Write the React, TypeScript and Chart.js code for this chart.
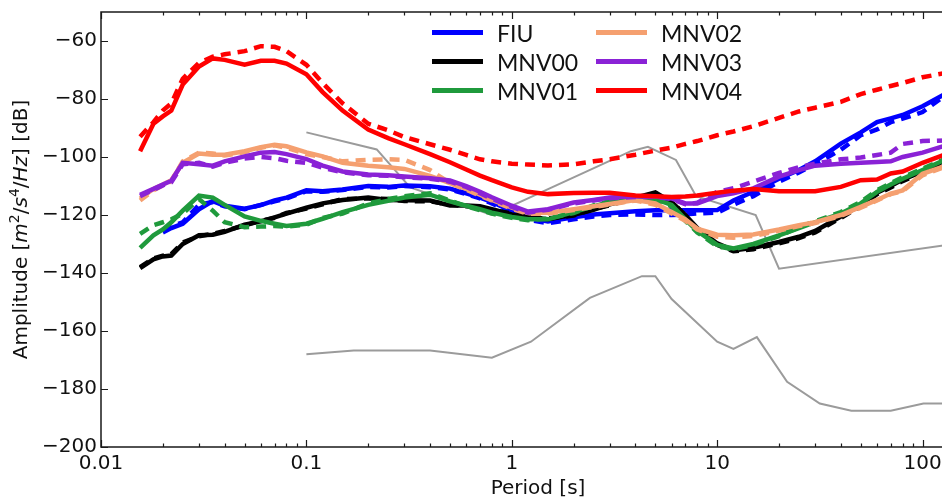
import React, { useEffect, useRef } from "react";
import { Chart, registerables } from "chart.js";

Chart.register(...registerables);

// Period grid [s]
const periods = [0.0155, 0.018, 0.02, 0.022, 0.025, 0.03, 0.035, 0.04, 0.05, 0.06, 0.07, 0.08, 0.1, 0.12, 0.15, 0.2, 0.25, 0.3, 0.4, 0.5, 0.6, 0.7, 0.8, 1, 1.2, 1.5, 2, 2.5, 3, 4, 5, 6, 7, 8, 10, 12, 15, 20, 25, 30, 40, 50, 60, 70, 80, 100, 130];

// Amplitude [dB] per station: solid and dashed curves
const fiuSolid = [null, null, -126, -124.5, -123, -118, -115.2, -116.8, -117.8, -116.6, -115, -114, -111.5, -111.8, -111.2, -110, -110.3, -109.8, -110.1, -110.9, -112.5, -114, -115.5, -118.7, -121, -122.2, -120.8, -119.8, -119.4, -118.7, -118.4, -118.4, -118.4, -118.4, -118.3, -115, -112, -107.5, -104.5, -101.5, -95.4, -91.5, -88, -86.7, -85.5, -82.5, -78.1];
const fiuDashed = [null, null, -125.5, -124, -122.5, -116.5, -115.5, -117, -118, -116.5, -115.3, -114.3, -111.8, -112, -111.4, -110.3, -110.5, -110, -110.4, -111.2, -112.8, -114.3, -116, -119.2, -121.7, -122.8, -121.5, -120.5, -120, -119.8, -120, -120, -119.8, -119.5, -119.2, -116.5, -113.5, -108.5, -105.3, -102.5, -97.5, -92.5, -90.5, -88, -86.8, -84.5, -78.5];

const mnv00Solid = [-138.3, -135.3, -134.3, -134, -130, -127, -126.8, -125.8, -123.3, -122.2, -120.8, -119.5, -117.5, -116, -114.8, -114, -114.8, -114.9, -115, -116.7, -116.7, -117, -118, -119.8, -120.8, -121.5, -119.9, -118.2, -116.3, -114, -112.2, -115.5, -120, -124.5, -129.8, -132.2, -131.3, -129.3, -127.5, -125.5, -120.5, -116.5, -112.3, -110, -107.8, -105, -101];
const mnv00Dashed = [-138, -135, -134, -133.5, -129.5, -127.3, -126.5, -125.5, -123.6, -122, -121, -119.3, -117.8, -116.3, -114.5, -114.3, -114.5, -115.2, -115.3, -116.4, -117, -117.3, -118.3, -119.5, -121, -121.2, -120.2, -118, -116.6, -114.3, -112.5, -115, -120.5, -125, -130.3, -132.5, -131.8, -129.8, -128, -126, -121, -117, -112.8, -110.5, -108.3, -105.5, -101.5];

const mnv01Solid = [-131.3, -127, -125, -122.5, -118.5, -113.3, -114, -116.5, -120.5, -122, -123, -123.8, -123, -121.3, -119, -116.5, -115.1, -114, -113, -115.3, -116.8, -118, -119.2, -120.7, -121.5, -121.5, -119, -117, -115.5, -114.3, -114.5, -116.5, -121.5, -125.5, -130.3, -131.5, -130, -127, -124.5, -122.5, -119.5, -116, -112, -109.5, -107.5, -104.5, -100.8];
const mnv01Dashed = [-126.5, -123.5, -122.5, -121.5, -119.5, -114.5, -118.5, -122.5, -124.2, -124, -123.8, -124, -123.3, -121, -119.5, -116, -114.5, -113.5, -112.5, -115, -117, -118.3, -119.5, -121, -121.8, -121.2, -119.3, -116.7, -115.2, -114, -114.8, -117, -122, -126, -130.8, -131.8, -130.3, -127.3, -124.2, -122.2, -119, -115.5, -111.5, -109, -107, -104, -100.5];

const mnv02Solid = [-114.3, -111, -109.5, -108, -102, -98.8, -99.2, -99.2, -98, -96.6, -95.8, -96.3, -98.4, -99.8, -102, -103, -103.5, -104.1, -106.5, -109, -111, -113, -114.8, -117.5, -119.3, -119.2, -118, -117, -116.2, -114.8, -116, -119, -121.5, -124.7, -126.8, -127, -126.7, -125, -123.5, -122.5, -120, -117.2, -114.8, -112.6, -111.5, -105.8, -103];
const mnv02Dashed = [-115, -111.5, -109.8, -108.3, -101.5, -98.5, -98.8, -99.5, -98.3, -96.8, -96, -96.8, -99, -100, -101.5, -101, -100.8, -101, -104.5, -109, -111.3, -113.3, -115, -117.8, -119.6, -119.5, -118.3, -117.2, -116.4, -115, -116.5, -119.5, -122, -125, -127.5, -127.8, -127.2, -125.4, -123.8, -122.8, -120.3, -117.5, -115, -112.8, -111.8, -106.3, -103.3];

const mnv03Solid = [-113, -111, -109.5, -108.2, -102, -102.5, -103, -101.5, -99.8, -98.5, -98.3, -99, -100.7, -103, -105, -106, -106.3, -106.7, -107.3, -108.1, -110, -112, -113.9, -116.8, -118.8, -118, -115.7, -114.8, -114, -113.5, -113.6, -114.3, -116, -116, -113.5, -112.5, -110.8, -106.8, -104.5, -103, -102.3, -102, -101.7, -101.5, -100, -98.5, -96];
const mnv03Dashed = [-113.5, -111.3, -109.8, -108.7, -102.5, -102, -103.3, -102, -100.5, -100, -100.4, -101.3, -102, -103.7, -105.3, -106.3, -106.5, -107, -107.5, -108.5, -110.3, -112.5, -114.4, -117.2, -119.2, -118.2, -116, -115, -114.2, -113.8, -113.8, -114.5, -116.3, -115.8, -112, -110.8, -108.5, -105.5, -103.5, -102.3, -100.8, -100.2, -99.3, -98.5, -95.5, -94.5, -94.3];

const mnv04Solid = [-98, -88.5, -86, -84, -75, -68.8, -66, -66.5, -68.2, -66.8, -66.8, -67.8, -71.5, -77.6, -84, -90.5, -93.5, -95.6, -99, -101.8, -104.3, -106.4, -108, -110.5, -112, -112.8, -112.4, -112.3, -112.3, -113.3, -113.5, -113.8, -113.6, -113.3, -112.3, -111.6, -111, -111.8, -111.8, -111.8, -110.3, -108, -107.8, -105.7, -105, -102, -99];
const mnv04Dashed = [-93, -88, -84, -81.5, -73, -67.5, -65.4, -64.6, -63.5, -61.8, -62, -63.5, -68.2, -74.5, -81.5, -88.5, -90.8, -93.1, -95.6, -97.5, -99.3, -100.8, -101.5, -102.3, -102.6, -102.9, -102.5, -101.5, -100.8, -99.2, -97.8, -96.8, -95.5, -94.5, -92.5, -91.2, -89.4, -86.5, -84.3, -83, -81, -78.3, -76.8, -75.5, -74.5, -72.5, -71];

// Peterson high / low noise models
const nhnmPeriods = [0.1, 0.22, 0.32, 0.8, 3.8, 4.6, 6.3, 7.9, 15.4, 20, 354.8];
const nhnmValues = [-91.5, -97.4, -110.5, -120.0, -98.0, -96.5, -101.0, -113.5, -120.0, -138.5, -126.0];
const nlnmPeriods = [0.1, 0.17, 0.4, 0.8, 1.24, 2.4, 4.3, 5, 6, 10, 12, 15.6, 21.9, 31.6, 45, 70, 101, 154];
const nlnmValues = [-168.0, -166.7, -166.7, -169.2, -163.7, -148.6, -141.1, -141.1, -149.0, -163.7, -166.2, -162.1, -177.5, -185.0, -187.5, -187.5, -185.0, -185.0];

// Axis ticks
const xTickValues = [0.01, 0.1, 1, 10, 100];
const xTickLabels = ["0.01", "0.1", "1", "10", "100"];
const yTickValues = [-200, -180, -160, -140, -120, -100, -80, -60];

const stationLabels = ["FIU", "MNV00", "MNV01", "MNV02", "MNV03", "MNV04"];
const solidSeries = [fiuSolid, mnv00Solid, mnv01Solid, mnv02Solid, mnv03Solid, mnv04Solid];
const dashedSeries = [fiuDashed, mnv00Dashed, mnv01Dashed, mnv02Dashed, mnv03Dashed, mnv04Dashed];
const stationColors = ["#0000ff", "#000000", "#1f9a3c", "#f5a070", "#8a22d6", "#ff0000"];

// y-axis title pieces: [text, kind] (n = normal, i = italic, s = superscript)
const yTitleParts: [string, string][] = [
  ["Amplitude [", "n"],
  ["m", "i"],
  ["2", "s"],
  ["/", "n"],
  ["s", "i"],
  ["4", "s"],
  ["/", "n"],
  ["Hz", "i"],
  ["] [dB]", "n"],
];

const FONT = "DejaVu Sans";
const TEXT = "#111111";

const pts = (xs: number[], ys: (number | null)[]) => xs.map((x, i) => ({ x, y: ys[i] }));

const frameTicks = {
  id: "frameTicks",
  afterDatasetsDraw(chart: any) {
    const { ctx, chartArea: a, scales } = chart;
    const x = scales.x;
    const y = scales.y;
    ctx.save();
    ctx.strokeStyle = "#1a1a1a";
    ctx.lineWidth = 1.5;
    ctx.beginPath();
    ctx.rect(a.left, a.top, a.right - a.left, a.bottom - a.top);
    ctx.stroke();
    ctx.lineWidth = 1.2;
    ctx.beginPath();
    for (let e = -2; e <= 2; e++) {
      for (let m = 1; m <= 9; m++) {
        const v = m * Math.pow(10, e);
        if (v < x.min || v > x.max) continue;
        const px = Math.round(x.getPixelForValue(v)) + 0.5;
        const len = m === 1 ? 7 : 3.5;
        ctx.moveTo(px, a.bottom);
        ctx.lineTo(px, a.bottom - len);
        ctx.moveTo(px, a.top);
        ctx.lineTo(px, a.top + len);
      }
    }
    yTickValues.forEach((v) => {
      const py = Math.round(y.getPixelForValue(v)) + 0.5;
      ctx.moveTo(a.left, py);
      ctx.lineTo(a.left + 7, py);
      ctx.moveTo(a.right, py);
      ctx.lineTo(a.right - 7, py);
    });
    ctx.stroke();
    ctx.restore();
  },
};

const yTitle = {
  id: "yTitle",
  afterDraw(chart: any) {
    const { ctx, chartArea: a } = chart;
    const fontFor = (k: string) =>
      k === "i" ? `italic 20px "${FONT}"` : k === "s" ? `14px "${FONT}"` : `20px "${FONT}"`;
    ctx.save();
    ctx.fillStyle = TEXT;
    ctx.textBaseline = "alphabetic";
    ctx.textAlign = "left";
    let total = 0;
    const widths = yTitleParts.map(([t, k]) => {
      ctx.font = fontFor(k);
      const w = ctx.measureText(t).width;
      total += w;
      return w;
    });
    ctx.translate(27, (a.top + a.bottom) / 2);
    ctx.rotate(-Math.PI / 2);
    let cx = -total / 2;
    yTitleParts.forEach(([t, k], i) => {
      ctx.font = fontFor(k);
      ctx.fillText(t, cx, k === "s" ? -8 : 0);
      cx += widths[i];
    });
    ctx.restore();
  },
};

const insideLegend = {
  id: "insideLegend",
  afterDraw(chart: any) {
    const { ctx, chartArea: a } = chart;
    ctx.save();
    ctx.font = "23px Lato";
    ctx.fillStyle = TEXT;
    ctx.textBaseline = "alphabetic";
    ctx.textAlign = "left";
    stationLabels.forEach((label, i) => {
      const col = Math.floor(i / 3);
      const row = i % 3;
      const x0 = a.left + 331 + col * 164;
      const yc = a.top + 20.5 + row * 29;
      ctx.strokeStyle = stationColors[i];
      ctx.lineWidth = 5;
      ctx.lineCap = "butt";
      ctx.beginPath();
      ctx.moveTo(x0, yc);
      ctx.lineTo(x0 + 51, yc);
      ctx.stroke();
      ctx.fillText(label, x0 + 65, yc + 9);
    });
    ctx.restore();
  },
};

export default function App() {
  const canvasRef = useRef<HTMLCanvasElement | null>(null);

  useEffect(() => {
    if (!canvasRef.current) return;
    const datasets: any[] = [
      {
        label: "NHNM",
        data: pts(nhnmPeriods, nhnmValues),
        borderColor: "#9b9b9b",
        borderWidth: 2,
        pointRadius: 0,
        order: 100,
      },
      {
        label: "NLNM",
        data: pts(nlnmPeriods, nlnmValues),
        borderColor: "#9b9b9b",
        borderWidth: 2,
        pointRadius: 0,
        order: 101,
      },
    ];
    stationLabels.forEach((label, i) => {
      datasets.push({
        label,
        data: pts(periods, solidSeries[i]),
        borderColor: stationColors[i],
        borderWidth: 4.5,
        pointRadius: 0,
        order: 40 - 2 * i,
      });
      datasets.push({
        label: label + " ",
        data: pts(periods, dashedSeries[i]),
        borderColor: stationColors[i],
        borderWidth: 4.5,
        borderDash: [10, 7],
        pointRadius: 0,
        order: 39 - 2 * i,
      });
    });

    const chart = new Chart(canvasRef.current, {
      type: "line",
      data: { datasets },
      options: {
        responsive: false,
        animation: false,
        layout: { padding: { top: 12, right: 5, bottom: 0, left: 0 } },
        plugins: {
          legend: { display: false },
          tooltip: { enabled: false },
        },
        elements: { line: { tension: 0 } },
        scales: {
          x: {
            type: "logarithmic",
            min: 0.01,
            max: 180,
            grid: { display: false, drawTicks: false },
            border: { display: false },
            afterBuildTicks: (scale: any) => {
              scale.ticks = xTickValues.map((v) => ({ value: v }));
            },
            afterFit: (scale: any) => {
              scale.height = 53;
              scale.paddingLeft = 0;
              scale.paddingRight = 0;
            },
            ticks: {
              autoSkip: false,
              maxRotation: 0,
              padding: 5,
              color: TEXT,
              font: { family: FONT, size: 20 },
              callback: (_v: any, i: number) => xTickLabels[i],
            },
            title: {
              display: true,
              text: "Period [s]",
              color: TEXT,
              font: { family: FONT, size: 20, lineHeight: 1 },
              padding: { top: 0, bottom: 1 },
            },
          },
          y: {
            type: "linear",
            min: -200,
            max: -50,
            grid: { display: false, drawTicks: false },
            border: { display: false },
            afterBuildTicks: (scale: any) => {
              scale.ticks = yTickValues.map((v) => ({ value: v }));
            },
            afterFit: (scale: any) => {
              scale.width = 101;
              scale.paddingTop = 0;
              scale.paddingBottom = 0;
            },
            ticks: {
              padding: 4,
              color: TEXT,
              font: { family: FONT, size: 20 },
              callback: (v: any) => (Number(v) < 0 ? "\u2212" + Math.abs(Number(v)) : String(v)),
            },
            title: { display: false },
          },
        },
      },
      plugins: [frameTicks, yTitle, insideLegend],
    });
    return () => chart.destroy();
  }, []);

  return (
    <div
      style={{
        position: "absolute",
        left: 0,
        top: 0,
        width: 942,
        height: 500,
        overflow: "hidden",
        background: "#ffffff",
      }}
    >
      <canvas ref={canvasRef} width={980} height={500} style={{ display: "block" }} />
    </div>
  );
}
